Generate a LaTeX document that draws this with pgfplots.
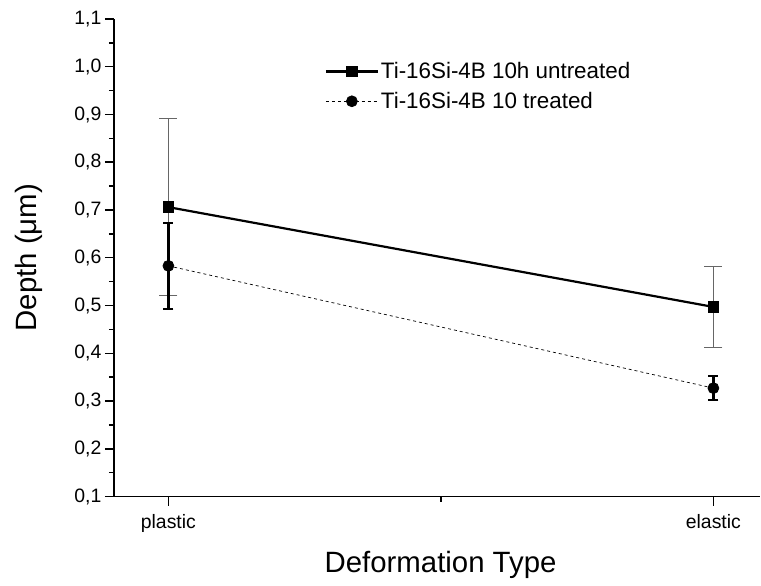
\documentclass[border=0pt]{standalone}
\usepackage{pgfplots}
\pgfplotsset{compat=1.18}
\usepackage{fontspec}
\setmainfont{Liberation Sans}

\begin{document}
\begin{tikzpicture}
\begin{axis}[
    scale only axis,
    width=647bp, height=478bp,
    xmin=0.9, xmax=2.086,
    ymin=0.1, ymax=1.1,
    clip=false,
    axis x line*=bottom, axis y line*=left,
    axis line style={line width=1.5bp, -},
    tick align=outside,
    major tick length=9bp, minor tick length=5bp,
    tick style={line width=1.5bp, black},
    xtick={1,2}, xticklabels={plastic,elastic},
    minor xtick={1.5},
    ytick={0.1,0.2,...,1.1},
    minor y tick num=1,
    /pgf/number format/assume math mode=true,
    /pgf/number format/use comma,
    /pgf/number format/fixed,
    /pgf/number format/fixed zerofill,
    /pgf/number format/precision=1,
    x tick label style={font=\fontsize{19.5}{22}\selectfont, yshift=-5bp},
    y tick label style={font=\fontsize{19.5}{22}\selectfont},
    xlabel={Deformation Type},
    ylabel={Depth (μm)},
    label style={font=\fontsize{29.5}{34}\selectfont},
    xlabel style={at={(axis description cs:0.5054,-0.159)}, anchor=base},
    ylabel style={at={(axis description cs:-0.1314,0.5)}, anchor=center},
    legend style={draw=none, fill=none, at={(axis description cs:0.326,0.913)}, anchor=north west,
        font=\fontsize{22.5}{26}\selectfont, row sep=8bp, inner sep=0bp},
    legend cell align=left,
    legend image code/.code={
        \draw[mark repeat=2, mark phase=2, #1] plot coordinates {(0bp,0bp) (26bp,0bp) (52bp,0bp)};
    },
]
% Ti-16Si-4B 10h untreated
\addplot[black, line width=2.2bp, mark=square*, mark size=4.7bp, mark options={solid},
    error bars/.cd, y dir=both, y explicit,
    error bar style={line width=0.8bp, black!60},
    error mark options={line width=1bp, black!60, mark size=9bp, rotate=90}]
coordinates {
    (1,0.706) +- (0,0.185)
    (2,0.497) +- (0,0.085)
};
\addlegendentry{Ti-16Si-4B 10h untreated}
% Ti-16Si-4B 10 treated
\addplot[black, line width=0.7bp, dashed, mark=*, mark size=5.5bp, mark options={solid},
    error bars/.cd, y dir=both, y explicit,
    error bar style={line width=2.5bp, black, solid},
    error mark options={line width=2.5bp, black, mark size=5bp, rotate=90}]
coordinates {
    (1,0.583) +- (0,0.09)
    (2,0.327) +- (0,0.025)
};
\addlegendentry{Ti-16Si-4B 10 treated}
\end{axis}
\useasboundingbox (-114bp,-89bp) rectangle (647bp,497bp);
\end{tikzpicture}
\end{document}
